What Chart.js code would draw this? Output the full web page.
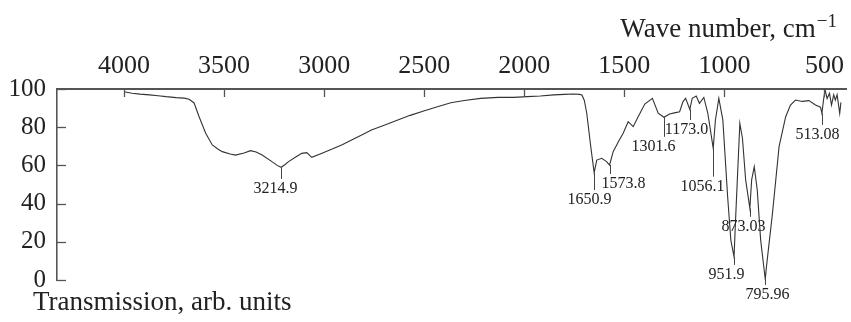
<!DOCTYPE html>
<html>
<head>
<meta charset="utf-8">
<script src="https://cdn.jsdelivr.net/npm/chart.js@4/dist/chart.umd.min.js"></script>
<style>
  html,body{margin:0;padding:0;background:#fff;}
  canvas{display:block;}
</style>
</head>
<body>
<canvas id="myChart" width="851" height="322"></canvas>
<script>
// IR spectrum, wavenumber (cm-1) vs transmission
const waveNumbers = [4000,3960,3920,3873,3830,3790,3740,3700,3675,3650,3625,3592,3559,3530,3509,3470,3443,3400,3368,3340,3310,3261,3235,3215,3195,3178,3140,3112,3087,3062,3020,2963,2910,2863,2810,2764,2700,2632,2570,2499,2430,2367,2300,2218,2130,2052,1986,1920,1853,1800,1754,1725,1712,1700,1688,1668,1651,1638,1613,1589,1574,1556,1530,1506,1481,1456,1431,1398,1360,1331,1302,1274,1250,1224,1207,1194,1173,1161,1141,1125,1103,1083,1056,1045,1028,1008,984,968,952,943,923,910,894,873,864,851,836,819,796,790,760,727,694,670,645,611,578,545,520,513,505,497,487,475,465,454,446,437,424,418]
const transmission = [98.6,97.8,97.3,96.9,96.5,96.0,95.5,95.2,94.6,92.7,85.5,76.8,70.7,68.5,67.2,66.0,65.4,66.5,67.7,67.0,65.4,62.0,60.0,59.0,60.5,62.0,64.5,66.3,66.7,64.2,66.0,68.4,70.8,73.3,76.0,78.5,81.0,83.8,86.2,88.6,90.8,92.8,94.0,95.1,95.6,95.6,96.0,96.3,96.9,97.2,97.4,97.2,96.9,94.0,87.3,69.8,56.2,62.8,63.7,62.0,60.2,67.2,72.4,76.8,82.9,80.3,85.5,92.1,95.1,87.3,85.2,86.9,87.5,88.1,93.4,95.1,89.4,95.1,96.3,92.5,95.6,87.3,68.9,83.8,95.1,83.8,43.6,20.9,12.2,34.9,82.0,74.2,52.4,37.5,52.4,59.3,47.1,20.9,0.4,7.0,34.9,69.8,85.5,91.6,94.2,93.5,93.9,91.6,90.5,87.3,94.2,99.5,95.0,97.7,91.6,97.0,94.2,97.0,87.3,93.0]

const xTicks = [4000,3500,3000,2500,2000,1500,1000,500]
const yTicks = [0,20,40,60,80,100]

// peak marks: label, wavenumber, transmission at the tip, transmission where the mark ends
const peakLabels = ['3214.9','1650.9','1573.8','1301.6','1173.0','1056.1','951.9','873.03','795.96','513.08']
const peakWave = [3214.9,1650.9,1573.8,1301.6,1173.0,1056.1,951.9,873.03,795.96,513.08]
const peakTip = [59.0,56.2,60.2,85.2,89.4,68.9,12.2,37.5,0.4,87.3]
const peakEnd = [52.9,47.1,55.5,75.0,83.8,54.1,7.9,33.1,-2.6,81.2]

const serif = '"Liberation Serif","DejaVu Serif",serif'
const axisColor = '#555'
const labelShift = {'3214.9':-6,'1650.9':-5,'1573.8':13,'1301.6':-11,'1173.0':-4,'1056.1':-11,'951.9':-8,'873.03':-7,'795.96':2,'513.08':-5}

const extras = {
  id: 'extras',
  afterDraw(chart) {
    const ctx = chart.ctx
    const xs = chart.scales.x, ys = chart.scales.y
    const area = chart.chartArea
    ctx.save()
    // inward ticks
    ctx.strokeStyle = axisColor
    ctx.lineWidth = 1.3
    xTicks.forEach(v => {
      const px = Math.round(xs.getPixelForValue(v)) + 0.5
      ctx.beginPath(); ctx.moveTo(px, area.top); ctx.lineTo(px, area.top + 8); ctx.stroke()
    })
    yTicks.forEach(v => {
      const py = Math.round(ys.getPixelForValue(v)) + 0.5
      ctx.beginPath(); ctx.moveTo(area.left, py); ctx.lineTo(area.left + 9, py); ctx.stroke()
    })
    // peak marks
    ctx.strokeStyle = '#444'
    ctx.lineWidth = 1
    ctx.fillStyle = '#222'
    ctx.font = '16px ' + serif
    ctx.textAlign = 'center'
    ctx.textBaseline = 'middle'
    peakLabels.forEach((t, i) => {
      const px = Math.round(xs.getPixelForValue(peakWave[i])) + 0.5
      const y1 = ys.getPixelForValue(peakTip[i])
      const y2 = ys.getPixelForValue(peakEnd[i])
      ctx.beginPath(); ctx.moveTo(px, y1); ctx.lineTo(px, y2); ctx.stroke()
      ctx.fillText(t, px + (labelShift[t] || 0), y2 + 10)
    })
    // axis titles
    ctx.fillStyle = '#222'
    ctx.textBaseline = 'alphabetic'
    ctx.textAlign = 'left'
    ctx.font = '27px ' + serif
    ctx.fillText('Transmission, arb. units', 33, 310)
    ctx.font = '19px ' + serif
    const sup = '\u22121'
    const supW = ctx.measureText(sup).width
    ctx.textAlign = 'right'
    ctx.fillText(sup, 837, 27)
    ctx.font = '27px ' + serif
    ctx.fillText('Wave number, cm', 837 - supW - 1, 37)
    ctx.restore()
  }
}

new Chart(document.getElementById('myChart'), {
  type: 'line',
  data: {
    datasets: [{
      data: waveNumbers.map((w, i) => ({x: w, y: transmission[i]})),
      borderColor: '#333',
      borderWidth: 1.1,
      pointRadius: 0,
      tension: 0,
      fill: false
    }]
  },
  options: {
    responsive: false,
    animation: false,
    devicePixelRatio: 1,
    layout: {padding: {top: 0, right: 0, bottom: 42, left: 0}},
    plugins: {legend: {display: false}, tooltip: {enabled: false}},
    scales: {
      x: {
        type: 'linear',
        position: 'top',
        reverse: true,
        min: 390,
        max: 4335,
        afterBuildTicks: s => { s.ticks = xTicks.map(v => ({value: v})) },
        afterFit: s => { s.height = 89 },
        grid: {display: false, drawTicks: false},
        border: {display: true, color: axisColor, width: 2},
        ticks: {color: '#222', font: {family: serif, size: 26}, padding: 7, maxRotation: 0, autoSkip: false, callback: v => String(v)}
      },
      y: {
        min: 0,
        max: 100,
        afterBuildTicks: s => { s.ticks = yTicks.map(v => ({value: v})) },
        afterFit: s => { s.width = 57 },
        grid: {display: false, drawTicks: false},
        border: {display: true, color: axisColor, width: 1.6},
        ticks: {color: '#222', font: {family: serif, size: 25}, padding: 11, callback: v => String(v)}
      }
    }
  },
  plugins: [extras]
})
</script>
</body>
</html>
